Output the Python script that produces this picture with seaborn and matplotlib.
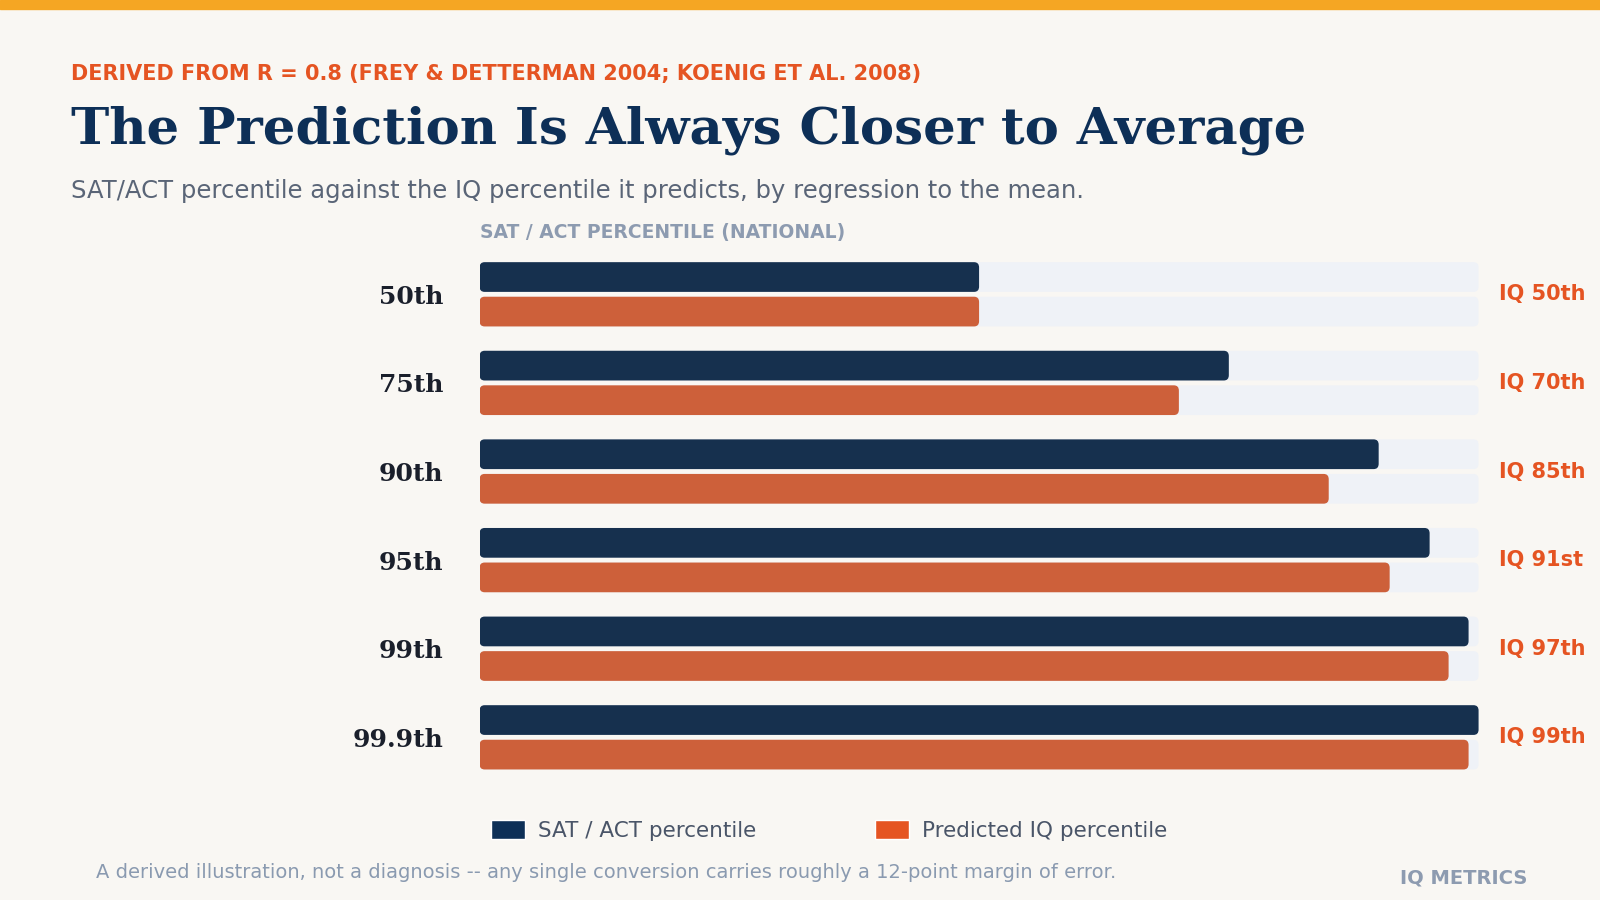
import pandas as pd
import matplotlib.pyplot as plt
import seaborn as sns
from matplotlib.patches import FancyBboxPatch, Patch, Rectangle

# data
sat_labels = ['50th', '75th', '90th', '95th', '99th', '99.9th']
sat_pct = [50, 75, 90, 95.1, 99, 100]
iq_pct = [50, 70, 85, 91.1, 97, 99]
iq_labels = ['IQ 50th', 'IQ 70th', 'IQ 85th', 'IQ 91st', 'IQ 97th', 'IQ 99th']
series = ['SAT / ACT percentile', 'Predicted IQ percentile']

NAVY = '#0d2f57'
ORANGE = '#e55422'
TRACK = '#eef2f8'
BG = '#f9f7f3'

df = pd.DataFrame({
    'row': sat_labels * 2,
    'value': sat_pct + iq_pct,
    'series': [series[0]] * 6 + [series[1]] * 6,
})
track = df.assign(value=100)

sns.set_style('white')
fig = plt.figure(figsize=(16, 9), dpi=100, facecolor=BG)
W, H = 1568, 882
def fx(x): return x / W
def fy(y): return 1 - y / H

ax = fig.add_axes([fx(470), fy(766), fx(1449) - fx(470), fy(245) - fy(766)])
ax.set_facecolor(BG)
sns.barplot(data=track, y='row', x='value', hue='series', orient='h',
            palette=[TRACK, TRACK], width=0.78, gap=0.14, legend=False, ax=ax)
sns.barplot(data=df, y='row', x='value', hue='series', orient='h',
            palette=[NAVY, ORANGE], width=0.78, gap=0.14, legend=False, ax=ax)

# round the bar corners
for p in list(ax.patches):
    x, y, w, h = p.get_x(), p.get_y(), p.get_width(), p.get_height()
    rb = FancyBboxPatch((x, y), w, h, boxstyle='round,pad=0,rounding_size=0.5',
                        mutation_aspect=0.12 / 1, facecolor=p.get_facecolor(),
                        edgecolor='none', zorder=p.get_zorder())
    p.remove()
    ax.add_patch(rb)

ax.set_xlim(0, 100)
ax.set_ylim(5.5, -0.5)
ax.set_xlabel('')
ax.set_ylabel('')
ax.set_xticks([])
ax.set_yticks(range(6))
ax.set_yticklabels(sat_labels, family='DejaVu Serif', fontweight='bold',
                   fontsize=18, color='#1a1f2b')
ax.tick_params(axis='y', length=0, pad=26)
sns.despine(ax=ax, left=True, bottom=True)
for i, lab in enumerate(iq_labels):
    ax.text(102, i, lab, color=ORANGE, fontsize=15, fontweight='bold', va='center')

# header texts
fig.add_artist(Rectangle((0, fy(9)), 1, 1 - fy(9), transform=fig.transFigure,
                         color='#f5a623'))
fig.text(fx(70), fy(73), 'DERIVED FROM R = 0.8 (FREY & DETTERMAN 2004; KOENIG ET AL. 2008)',
         color=ORANGE, fontsize=15, fontweight='bold', va='center')
fig.text(fx(70), fy(128), 'The Prediction Is Always Closer to Average',
         family='DejaVu Serif', fontweight='bold', fontsize=37, color=NAVY, va='center')
fig.text(fx(70), fy(187), 'SAT/ACT percentile against the IQ percentile it predicts, by regression to the mean.',
         color='#5a6577', fontsize=17.5, va='center')
fig.text(fx(470), fy(228), 'SAT / ACT PERCENTILE (NATIONAL)', color='#8d9bb0',
         fontsize=13.5, fontweight='bold', va='center')

# legend
handles = [Patch(facecolor=NAVY, label=series[0]), Patch(facecolor=ORANGE, label=series[1])]
fig.legend(handles=handles, loc='center left', bbox_to_anchor=(fx(462), fy(814)),
           ncol=2, frameon=False, fontsize=15.5, labelcolor='#4a5568',
           handlelength=1.6, handleheight=1.0, columnspacing=5.5, handletextpad=0.6)

# footer
fig.text(fx(94), fy(855), 'A derived illustration, not a diagnosis -- any single conversion carries roughly a 12-point margin of error.',
         color='#8a9ab0', fontsize=14, va='center')
fig.text(fx(1497), fy(860), 'IQ METRICS', color='#8d9bb0', fontsize=14,
         fontweight='bold', va='center', ha='right')

fig.savefig('out.png', dpi=100, facecolor=BG)
